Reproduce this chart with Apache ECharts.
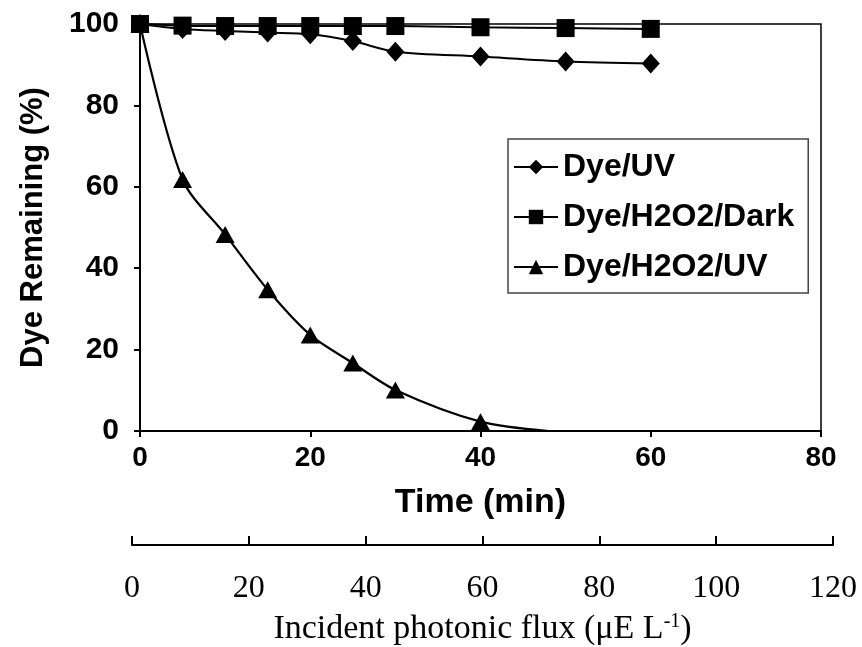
<!DOCTYPE html>
<html>
<head>
<meta charset="utf-8">
<script src="https://cdn.jsdelivr.net/npm/echarts@6/dist/echarts.min.js"></script>
<style>
html,body{margin:0;padding:0;background:#fff;}
#chart{width:862px;height:647px;}
</style>
</head>
<body>
<div id="chart"></div>
<script>
// ---- Data ----
const timesMin = [0, 5, 10, 15, 20, 25, 30, 40, 50, 60];
const dyeUV = [100, 98.8, 98.3, 97.9, 97.5, 95.8, 93.2, 92.0, 90.8, 90.3];
const dyeH2O2Dark = [100, 99.6, 99.5, 99.5, 99.5, 99.5, 99.5, 99.2, 99.0, 98.8];
const tUV = [0, 5, 10, 15, 20, 25, 30, 40];
const dyeH2O2UV = [100, 61.8, 48.3, 34.7, 23.6, 16.7, 10.1, 2.3];
const tailTime = 48;      // where the fitted curve reaches zero (no marker)
const tailValue = 0;
const timeTicks = [0, 20, 40, 60, 80];
const fluxTicks = [0, 20, 40, 60, 80, 100, 120];
const seriesNames = ['Dye/UV', 'Dye/H2O2/Dark', 'Dye/H2O2/UV'];

const pairs = (xs, ys) => xs.map((x, i) => [x, ys[i]]);
const uvTri = pairs(tUV, dyeH2O2UV);
uvTri.push({ value: [tailTime, tailValue], symbol: 'none' });

const SANS = '"Liberation Sans", Arial, Helvetica, sans-serif';
const SERIF = '"Liberation Serif", "Times New Roman", serif';

const chart = echarts.init(document.getElementById('chart'), null, { renderer: 'canvas' });
chart.setOption({
  backgroundColor: '#fff',
  animation: false,
  grid: [
    { left: 140, right: 41, top: 24, bottom: 216, show: true, borderColor: '#000', borderWidth: 1.5, backgroundColor: 'transparent' },
    { left: 132, right: 29, top: 500, bottom: 91, show: false }
  ],
  legend: {
    orient: 'vertical',
    left: 508, top: 139,
    padding: [12, 14, 10, 5],
    borderColor: '#444', borderWidth: 1.5,
    backgroundColor: '#fff',
    itemWidth: 44, itemHeight: 18,
    itemGap: 18,
    data: seriesNames,
    textStyle: { fontFamily: SANS, fontWeight: 'bold', fontSize: 32, lineHeight: 32, color: '#000' }
  },
  xAxis: [
    {
      gridIndex: 0, type: 'value', min: timeTicks[0], max: timeTicks[timeTicks.length - 1], interval: 20,
      name: 'Time (min)', nameLocation: 'middle', nameGap: 55,
      nameTextStyle: { fontFamily: SANS, fontWeight: 'bold', fontSize: 34, color: '#000' },
      axisLine: { show: true, lineStyle: { color: '#000', width: 2 } },
      axisTick: { show: true, inside: false, length: 6, lineStyle: { color: '#000', width: 2 } },
      axisLabel: { margin: 13, fontFamily: SANS, fontWeight: 'bold', fontSize: 28, color: '#000' },
      splitLine: { show: false }
    },
    {
      gridIndex: 1, type: 'value', position: 'bottom', min: fluxTicks[0], max: fluxTicks[fluxTicks.length - 1], interval: 20,
      name: 'Incident photonic flux (μE L{sup|-1})', nameLocation: 'middle', nameGap: 67,
      nameTextStyle: {
        fontFamily: SERIF, fontSize: 34, color: '#000',
        rich: { sup: { fontFamily: SERIF, fontSize: 20, color: '#000', padding: [0, 0, 14, 0] } }
      },
      axisLine: { show: true, lineStyle: { color: '#000', width: 2 } },
      axisTick: { show: true, inside: true, length: 9, lineStyle: { color: '#000', width: 2 } },
      axisLabel: { margin: 28, fontFamily: SERIF, fontSize: 32, color: '#000' },
      splitLine: { show: false }
    }
  ],
  yAxis: [
    {
      gridIndex: 0, type: 'value', min: 0, max: 100, interval: 20,
      name: 'Dye Remaining (%)', nameLocation: 'middle', nameGap: 91,
      nameTextStyle: { fontFamily: SANS, fontWeight: 'bold', fontSize: 31, color: '#000' },
      axisLine: { show: true, lineStyle: { color: '#000', width: 2 } },
      axisTick: { show: true, inside: false, length: 6, lineStyle: { color: '#000', width: 2 } },
      axisLabel: { margin: 21, fontFamily: SANS, fontWeight: 'bold', fontSize: 30, color: '#000' },
      splitLine: { show: false }
    },
    { gridIndex: 1, type: 'value', show: false, min: 0, max: 1 }
  ],
  series: [
    {
      name: seriesNames[0], type: 'line', xAxisIndex: 0, yAxisIndex: 0,
      data: pairs(timesMin, dyeUV), smooth: 0.3, clip: false,
      symbol: 'diamond', symbolSize: [18, 20],
      lineStyle: { color: '#000', width: 2 }, itemStyle: { color: '#000' }, z: 3
    },
    {
      name: seriesNames[1], type: 'line', xAxisIndex: 0, yAxisIndex: 0,
      data: pairs(timesMin, dyeH2O2Dark), smooth: 0.3, clip: false,
      symbol: 'rect', symbolSize: 18,
      lineStyle: { color: '#000', width: 2 }, itemStyle: { color: '#000' }, z: 4
    },
    {
      name: seriesNames[2], type: 'line', xAxisIndex: 0, yAxisIndex: 0,
      data: uvTri, smooth: 0.3, clip: false,
      symbol: 'triangle', symbolSize: [19, 17],
      lineStyle: { color: '#000', width: 2.2 }, itemStyle: { color: '#000' }, z: 3
    }
  ]
});
</script>
</body>
</html>
